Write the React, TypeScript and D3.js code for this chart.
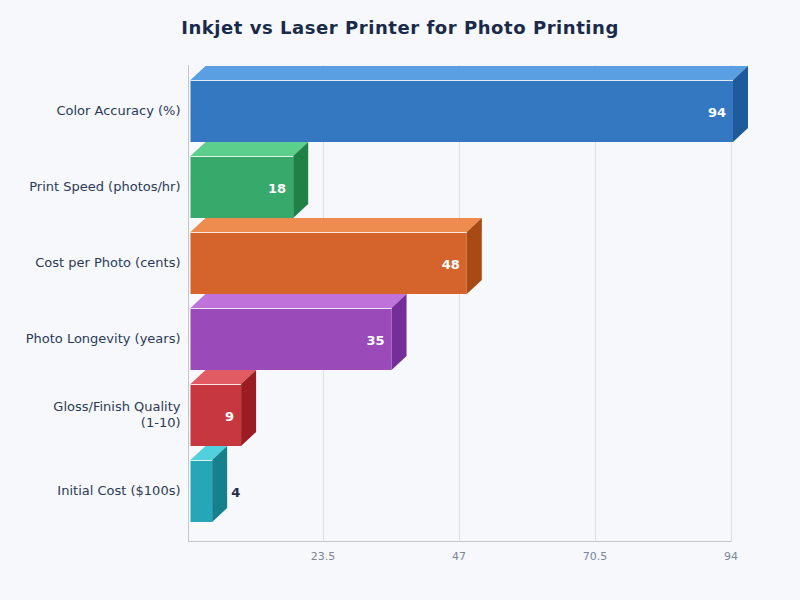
import React from 'react';
import * as d3 from 'd3';

const categories = [
  'Color Accuracy (%)',
  'Print Speed (photos/hr)',
  'Cost per Photo (cents)',
  'Photo Longevity (years)',
  'Gloss/Finish Quality (1-10)',
  'Initial Cost ($100s)'
];
const values = [94, 18, 48, 35, 9, 4];
const tickValues = [23.5, 47, 70.5, 94];

const frontColors = ['#3478c1', '#37a96a', '#d4642b', '#9a4ab9', '#c7373f', '#26a6b6'];
const topColors = ['#5a9fe2', '#5ccf8d', '#ee8b4f', '#bf72da', '#e05b63', '#50d1dd'];
const sideColors = ['#1f5b9b', '#1f8146', '#a84a14', '#752d9a', '#9b1d23', '#17808d'];

const width = 800;
const height = 600;
const plot = { left: 188.5, right: 731.5, top: 65, bottom: 541.5 };
const depthX = 15;
const depthY = 14;
const barGap = 14;

const x = d3.scaleLinear().domain([0, 94]).range([187, 731]);
const y = d3.scaleBand<string>().domain(categories).range([73, 529]).paddingInner(barGap / 76).paddingOuter(barGap / 152);

const poly = d3.line();

// wrap labels the way the original does, only the long one breaks
const labelLines = (label: string) =>
  label.length > 24 ? [label.slice(0, label.lastIndexOf(' ')), label.slice(label.lastIndexOf(' ') + 1)] : [label];

const App = () => {
  const h = y.bandwidth();
  return (
    <svg
      width={width}
      height={height}
      viewBox={`0 0 ${width} ${height}`}
      style={{ position: 'absolute', left: 0, top: 0, background: '#f6f8fc', fontFamily: '"DejaVu Sans", sans-serif' }}
    >
      <text x={400} y={34} textAnchor="middle" fontSize={18} letterSpacing={0.55} fontWeight="bold" fill="#1a2a4a">
        Inkjet vs Laser Printer for Photo Printing
      </text>

      {/* grid lines */}
      {tickValues.map(t => (
        <line key={t} x1={x(t) + 0.5} x2={x(t) + 0.5} y1={plot.top} y2={plot.bottom} stroke="#dcdfe5" strokeWidth={1} />
      ))}

      {/* axis lines */}
      <line x1={plot.left} x2={plot.left} y1={plot.top} y2={plot.bottom + 0.5} stroke="#c3c8d0" strokeWidth={1} />
      <line x1={plot.left} x2={plot.right} y1={plot.bottom} y2={plot.bottom} stroke="#c3c8d0" strokeWidth={1} />

      {tickValues.map(t => (
        <text key={t} x={x(t)} y={560} textAnchor="middle" fontSize={11} fill="#7c8698">
          {t}
        </text>
      ))}

      {/* 3d bars */}
      {categories.map((c, i) => {
        const x0 = 190.5;
        const x1 = x(values[i]) + 2;
        const y0 = y(c) as number;
        const y1 = y0 + h;
        return (
          <g key={c}>
            <path
              d={poly([[x0, y0], [x0 + depthX, y0 - depthY], [x1 + depthX, y0 - depthY], [x1, y0]]) + 'Z'}
              fill={topColors[i]}
            />
            <path
              d={poly([[x1, y0], [x1 + depthX, y0 - depthY], [x1 + depthX, y1 - depthY], [x1, y1]]) + 'Z'}
              fill={sideColors[i]}
            />
            <rect x={x0} y={y0} width={x1 - x0} height={h} fill={frontColors[i]} />
            <line x1={x0} x2={x1} y1={y0 + 0.5} y2={y0 + 0.5} stroke="#ffffff" strokeOpacity={0.85} strokeWidth={1} />
          </g>
        );
      })}

      {/* category labels */}
      {categories.map(c => {
        const lines = labelLines(c);
        const cy = (y(c) as number) + h / 2;
        return (
          <text key={c} textAnchor="end" fontSize={13} fill="#2c3a57">
            {lines.map((l, j) => (
              <tspan key={l} x={180.5} y={cy + 3.5 + (j - (lines.length - 1) / 2) * 16}>
                {l}
              </tspan>
            ))}
          </text>
        );
      })}

      {/* value labels */}
      {categories.map((c, i) => {
        const inside = values[i] > 5;
        const end = x(values[i]) + 2;
        return (
          <text
            key={c}
            x={inside ? end - 7 : end + depthX + 4}
            y={(y(c) as number) + h / 2 + 6}
            textAnchor={inside ? 'end' : 'start'}
            fontSize={13}
            fontWeight="bold"
            fill={inside ? '#ffffff' : '#1e2d4d'}
          >
            {values[i]}
          </text>
        );
      })}
    </svg>
  );
};

export default App;
